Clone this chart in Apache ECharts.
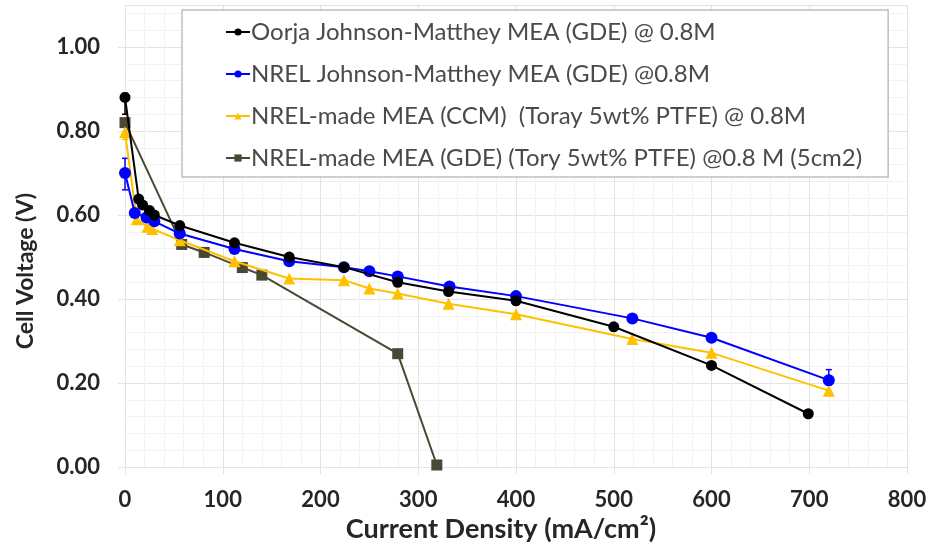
<!DOCTYPE html>
<html>
<head>
<meta charset="utf-8">
<script src="https://cdn.jsdelivr.net/npm/echarts@6/dist/echarts.min.js"></script>
<style>
  html, body { margin: 0; padding: 0; background: #fff; }
  #main { width: 930px; height: 548px; }
</style>
</head>
<body>
<div id="main"></div>
<script>
// series names (legend)
const names = [
  'Oorja Johnson-Matthey MEA (GDE) @ 0.8M',
  'NREL Johnson-Matthey MEA (GDE) @0.8M',
  'NREL-made MEA (CCM)  (Toray 5wt% PTFE) @ 0.8M',
  'NREL-made MEA (GDE) (Tory 5wt% PTFE) @0.8 M (5cm2)'
];

// [current density mA/cm2, cell voltage V]
const oorjaJM = [
  [0, 0.88], [14, 0.638], [18, 0.624], [25, 0.611], [30, 0.60], [56, 0.575],
  [112, 0.534], [168, 0.50], [224, 0.476], [279, 0.44], [331, 0.418],
  [400, 0.396], [500, 0.334], [600, 0.242], [699, 0.127]
];
const nrelJM = [
  [0, 0.70], [10, 0.605], [22, 0.594], [30, 0.585], [56, 0.556],
  [112, 0.519], [168, 0.49], [224, 0.476], [250, 0.466], [279, 0.454],
  [332, 0.43], [400, 0.407], [519, 0.354], [600, 0.308], [720, 0.207]
];
const nrelCCM = [
  [0, 0.797], [12, 0.59], [23, 0.572], [28, 0.567], [56, 0.54],
  [112, 0.49], [168, 0.449], [224, 0.445], [250, 0.425], [279, 0.413],
  [331, 0.389], [400, 0.364], [519, 0.305], [600, 0.272], [720, 0.182]
];
const nrelGDE = [
  [0, 0.82], [58, 0.53], [81, 0.511], [120, 0.475], [140, 0.457],
  [279, 0.27], [319, 0.005]
];

// error bars: [x, low, high]
const oorjaErr = [[0, 0.84, 0.89]];
const nrelJMErr = [[0, 0.66, 0.735], [720, 0.195, 0.232]];
const ccmErr = [[0, 0.78, 0.81]];

const colors = ['#000000', '#0000ff', '#ffc000', '#4a4832'];
const symbols = ['circle', 'circle', 'triangle', 'rect'];
const symbolSizes = [11, 12, 12, 11];
const allData = [oorjaJM, nrelJM, nrelCCM, nrelGDE];
const allErr = [oorjaErr, nrelJMErr, ccmErr];

const chart = echarts.init(document.getElementById('main'));

const labelFont = { fontFamily: 'Lato', fontWeight: 'bold', fontSize: 22, color: '#262626' };

function errorSeries(err, color) {
  return {
    type: 'custom',
    data: err,
    silent: true,
    z: 1,
    renderItem: (params, api) => {
      const lo = api.coord([api.value(0), api.value(1)]);
      const hi = api.coord([api.value(0), api.value(2)]);
      return {
        type: 'group',
        children: [
          { type: 'line', shape: { x1: lo[0], y1: lo[1], x2: hi[0], y2: hi[1] }, style: { stroke: color, lineWidth: 1.5 } },
          { type: 'line', shape: { x1: lo[0] - 3, y1: lo[1], x2: lo[0] + 3, y2: lo[1] }, style: { stroke: color, lineWidth: 1.5 } },
          { type: 'line', shape: { x1: hi[0] - 3, y1: hi[1], x2: hi[0] + 3, y2: hi[1] }, style: { stroke: color, lineWidth: 1.5 } }
        ]
      };
    }
  };
}

const lineSeries = allData.map((d, i) => ({
  name: names[i],
  type: 'line',
  data: d,
  symbol: symbols[i],
  symbolSize: symbolSizes[i],
  showAllSymbol: true,
  color: colors[i],
  lineStyle: { color: colors[i], width: 2 },
  itemStyle: { color: colors[i] },
  z: 10 - i
}));

chart.setOption({
  animation: false,
  backgroundColor: '#fff',
  grid: { left: 125, right: 23, top: 5, bottom: 78 },
  legend: {
    orient: 'vertical',
    left: 182,
    top: 10,
    padding: [10, 26, 7, 43],
    itemGap: 18,
    itemWidth: 24,
    itemHeight: 9,
    backgroundColor: '#fff',
    borderColor: '#bfbfbf',
    borderWidth: 1.5,
    textStyle: { fontFamily: 'Lato', fontSize: 24, color: '#4a4a4a', padding: [0, 0, 0, -4] },
    data: names
  },
  xAxis: {
    type: 'value',
    min: 0, max: 800, interval: 100,
    name: 'Current Density (mA/cm²)',
    nameLocation: 'middle',
    nameGap: 48,
    nameTextStyle: { fontFamily: 'Lato', fontWeight: 'bold', fontSize: 27, color: '#262626', padding: [0, 30, 0, 0] },
    axisLine: { show: false },
    axisTick: { show: true, length: 7, lineStyle: { color: '#e3e3e3' } },
    axisLabel: Object.assign({ margin: 22 }, labelFont),
    splitLine: { lineStyle: { color: '#e3e3e3', width: 1 } },
    minorTick: { show: false, splitNumber: 5 },
    minorSplitLine: { show: true, lineStyle: { color: '#f2f2f2', width: 1 } }
  },
  yAxis: {
    type: 'value',
    min: 0, max: 1.1, interval: 0.2,
    name: 'Cell Voltage (V)',
    nameLocation: 'middle',
    nameGap: 88,
    nameTextStyle: { fontFamily: 'Lato', fontWeight: 'bold', fontSize: 23, color: '#262626', padding: [0, 70, 0, 0] },
    axisLine: { show: false },
    axisTick: { show: true, length: 7, lineStyle: { color: '#e3e3e3' } },
    axisLabel: Object.assign({
      margin: 25,
      showMaxLabel: false,
      formatter: v => v.toFixed(2)
    }, labelFont),
    splitLine: { lineStyle: { color: '#e3e3e3', width: 1 } },
    minorTick: { show: false, splitNumber: 5 },
    minorSplitLine: { show: true, lineStyle: { color: '#f2f2f2', width: 1 } }
  },
  series: lineSeries.concat(allErr.map((e, i) => errorSeries(e, colors[i])))
});
</script>
</body>
</html>
